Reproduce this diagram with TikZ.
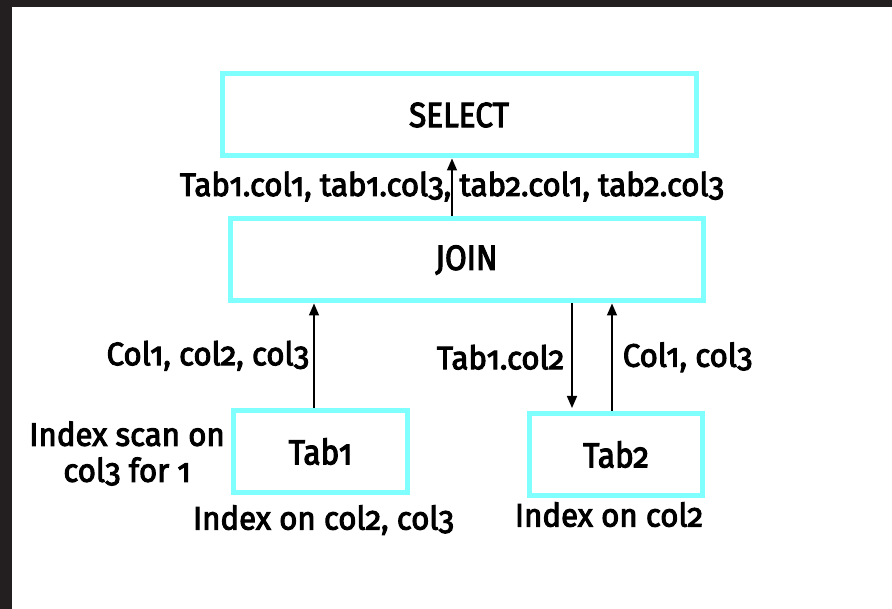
\documentclass[tikz,border=0pt]{standalone}
\usepackage{fontspec}
\setmainfont[Numbers=OldStyle,FakeBold=3]{Fira Sans}
\newfontfamily\boxfont[Numbers=OldStyle,FakeBold=3,FakeStretch=0.9]{Fira Sans}
\newfontfamily\lblfont[Numbers=OldStyle,FakeBold=3,FakeStretch=0.96]{Fira Sans}
\usetikzlibrary{arrows.meta,positioning}
\definecolor{boxcyan}{RGB}{128,255,255}
\definecolor{frame}{RGB}{35,31,32}

\begin{document}
\begin{tikzpicture}[x=1pt,y=-1pt,
  opbox/.style={draw=boxcyan,line width=5pt,minimum height=82pt,inner sep=0pt,font=\boxfont\fontsize{35}{38}\selectfont},
  lbl/.style={font=\lblfont\fontsize{32.5}{36}\selectfont,inner sep=4pt},
  arr/.style={line width=1.6pt,-{Triangle[length=12pt,width=10pt]}}]
  \useasboundingbox (0,0) rectangle (892,609);
  \fill[frame] (0,0) rectangle (892,7);
  \fill[frame] (0,0) rectangle (12,609);
  % boxes
  \node[opbox,minimum width=474pt] (select) at (459,115) {SELECT};
  \node[opbox,minimum width=473pt] (join) at (466.5,260) {JOIN};
  \node[opbox,minimum width=174pt] (tab1) at (320.5,451.5) {Tab1};
  \node[opbox,minimum width=173pt] (tab2) at (616,454.5) {Tab2};
  % arrows
  \draw[arr] ([xshift=-14.5pt]join.north) -- ([xshift=-14.5pt]join.north |- select.south)
    node[lbl,midway,yshift=1pt] (cols) {Tab1.col1, tab1.col3, tab2.col1, tab2.col3};
  \draw[arr] ([xshift=-6.5pt]tab1.north) -- ([xshift=-6.5pt]tab1.north |- join.south)
    node[lbl,midway,left] (c123) {Col1, col2, col3};
  \draw[arr,shorten >=3pt] ([xshift=-44pt]tab2.north |- join.south) -- ([xshift=-44pt]tab2.north)
    node[lbl,midway,left,xshift=-3pt] (t1c2) {Tab1.col2};
  \draw[arr] ([xshift=-4pt]tab2.north) -- ([xshift=-4pt]tab2.north |- join.south)
    node[lbl,midway,right,xshift=6pt] (c13) {Col1, col3};
  % notes
  \node[lbl,left=2pt of tab1,align=center,yshift=-2pt] (scan) {Index scan on\\col3 for 1};
  \node[lbl,below=6pt of tab1,xshift=3pt] (idx1) {Index on col2, col3};
  \node[lbl,below=0pt of tab2,xshift=-7pt] (idx2) {Index on col2};
\end{tikzpicture}
\end{document}
